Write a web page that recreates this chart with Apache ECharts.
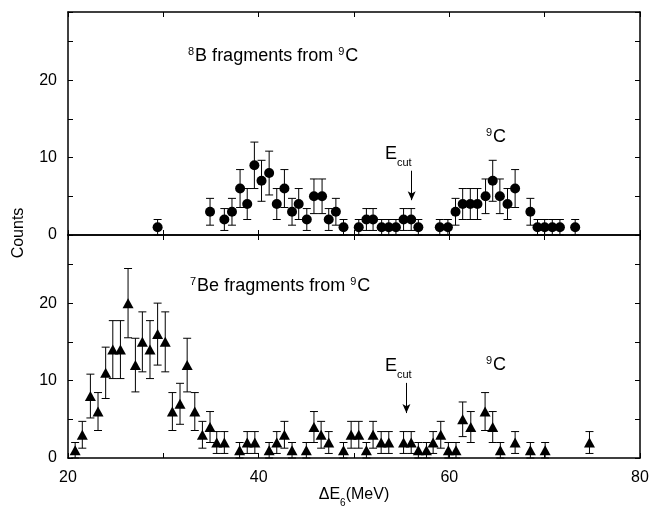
<!DOCTYPE html>
<html>
<head>
<meta charset="utf-8">
<script src="https://cdn.jsdelivr.net/npm/echarts@6/dist/echarts.min.js"></script>
<style>
  html, body { margin:0; padding:0; background:#fff; }
  #chart { width:654px; height:506px; }
</style>
</head>
<body>
<div id="chart"></div>
<script>
// ---- data (x = ΔE6 in MeV, y = counts) ----
const b8X = [29.4, 34.9, 36.4, 37.2, 38.05, 38.8, 39.55, 40.3, 41.1, 41.9, 42.7, 43.5, 44.2, 45.05, 45.8,
  46.65, 47.35, 48.1, 48.9, 50.5, 51.3, 52.0, 52.9, 53.65, 54.4, 55.2, 56.0, 56.75, 59.0, 59.85,
  60.65, 61.4, 62.2, 62.95, 63.8, 64.55, 65.3, 66.1, 66.9, 68.5, 69.25, 70.0, 70.8, 71.6, 73.2];
const b8Y = [1, 3, 2, 3, 6, 4, 9, 7, 8, 4, 6, 3, 4, 2, 5,
  5, 2, 3, 1, 1, 2, 2, 1, 1, 1, 2, 2, 1, 1, 1,
  3, 4, 4, 4, 5, 7, 5, 4, 6, 3, 1, 1, 1, 1, 1];

const be7X = [20.75, 21.5, 22.35, 23.15, 23.95, 24.7, 25.5, 26.3, 27.07, 27.8, 28.6, 29.4, 30.2, 30.95, 31.75,
  32.5, 33.3, 34.1, 34.9, 35.6, 36.4, 38.0, 38.8, 39.6, 41.1, 41.9, 42.7, 43.5, 45.0, 45.8,
  46.55, 47.35, 48.9, 49.7, 50.5, 51.3, 52.0, 52.85, 53.65, 55.2, 56.0, 56.75, 57.6, 58.3, 59.1,
  59.9, 60.7, 61.4, 62.25, 63.75, 64.55, 65.35, 66.9, 68.5, 70.05, 74.7];
const be7Y = [1, 3, 8, 6, 11, 14, 14, 20, 12, 15, 14, 16, 15, 6, 7,
  12, 6, 3, 4, 2, 2, 1, 2, 2, 1, 2, 3, 1, 1, 4,
  3, 2, 1, 3, 3, 1, 3, 2, 2, 2, 2, 1, 1, 2, 3,
  1, 1, 5, 4, 6, 4, 1, 2, 1, 1, 2];

// arrows marking E_cut : [x, yStart, yEnd]
const cutTop = [56.05, 8.3, 4.5];
const cutBot = [55.5, 9.7, 5.8];

const xTicks = { min:20, max:80, interval:10 };
const yMax = 28.8;

// poisson error bars (sqrt N), as drawn in the figure
const pts = (xs, ys) => xs.map((x,i)=> [x, ys[i], Math.sqrt(ys[i])]);

const FONT = 'Liberation Sans, Arial, Helvetica, sans-serif';
const lineStyle = { color:'#000', width:1.5 };

function xAxis(grid, pos, labels){
  return {
    type:'value', gridIndex:grid, position:pos, min:xTicks.min, max:xTicks.max, interval:xTicks.interval,
    axisLine:{ show:true, onZero:false, lineStyle },
    axisTick:{ show:true, inside:true, length:5, lineStyle:{ color:'#000', width:1 } },
    axisLabel:{ show:labels, margin:12, fontSize:16, color:'#000', fontFamily:FONT,
      formatter:(v)=> v % 20 === 0 ? String(v) : '' },
    splitLine:{ show:false }
  };
}
function yAxis(grid, pos, labels){
  return {
    type:'value', gridIndex:grid, position:pos, min:0, max:yMax, interval:5,
    axisLine:{ show:true, onZero:false, lineStyle },
    axisTick:{ show:true, inside:true, length:5, lineStyle:{ color:'#000', width:1 } },
    axisLabel:{ show:labels, margin:11, fontSize:16, color:'#000', fontFamily:FONT,
      formatter:(v)=> v % 10 === 0 ? String(v) : '' },
    splitLine:{ show:false }
  };
}

function errRender(params, api){
  const x = api.value(0), y = api.value(1), e = api.value(2);
  const hi = api.coord([x, y + e]);
  const lo = api.coord([x, Math.max(0, y - e)]);
  const w = 4;
  const st = { stroke:'#000', lineWidth:1 };
  return { type:'group', children:[
    { type:'line', shape:{ x1:hi[0], y1:hi[1], x2:lo[0], y2:lo[1] }, style:st },
    { type:'line', shape:{ x1:hi[0]-w, y1:hi[1], x2:hi[0]+w, y2:hi[1] }, style:st },
    { type:'line', shape:{ x1:lo[0]-w, y1:lo[1], x2:lo[0]+w, y2:lo[1] }, style:st }
  ]};
}

function arrowLine(a){
  return {
    silent:true, symbol:['none','arrow'], symbolSize:[6,9],
    lineStyle:{ color:'#000', width:1, type:'solid' }, label:{ show:false },
    data:[[ { coord:[a[0], a[1]] }, { coord:[a[0], a[2]] } ]]
  };
}

const rich = {
  n:{ fontSize:18, fontFamily:FONT, color:'#000', lineHeight:22 },
  s:{ fontSize:11, fontFamily:FONT, color:'#000', verticalAlign:'top', lineHeight:22, padding:[1,1,0,0] },
  d:{ fontSize:11, fontFamily:FONT, color:'#000', verticalAlign:'bottom', lineHeight:22, padding:[0,0,-3,0] }
};
function label(x, y, text){
  return { type:'text', left:x, top:y, style:{ text, rich, fill:'#000' } };
}

const chart = echarts.init(document.getElementById('chart'), null, { renderer:'canvas' });
chart.setOption({
  animation:false,
  backgroundColor:'#fff',
  grid:[
    { left:68, top:12, width:572, height:223, outerBoundsMode:'none', containLabel:false },
    { left:68, top:235, width:572, height:223, outerBoundsMode:'none', containLabel:false }
  ],
  xAxis:[
    xAxis(0, 'bottom', false),
    xAxis(0, 'top', false),
    Object.assign(xAxis(1, 'bottom', true), {
      name:'{n|ΔE}{d|6}{n|(MeV)}', nameLocation:'middle', nameGap:27,
      nameTextStyle:{ rich:{
        n:{ fontSize:16, fontFamily:FONT, color:'#000', lineHeight:20 },
        d:{ fontSize:10, fontFamily:FONT, color:'#000', verticalAlign:'bottom', lineHeight:20, padding:[0,0,-3,0] }
      } }
    }),
    xAxis(1, 'top', false)
  ],
  yAxis:[
    yAxis(0, 'left', true),
    yAxis(0, 'right', false),
    yAxis(1, 'left', true),
    yAxis(1, 'right', false)
  ],
  graphic:[
    { type:'text', x:19, y:233, rotation:Math.PI/2, style:{ text:'Counts', fontSize:16, fontFamily:FONT, fill:'#000', align:'center', verticalAlign:'middle' } },
    label(188, 45, '{s|8}{n|B fragments from }{s|9}{n|C}'),
    label(190, 275, '{s|7}{n|Be fragments from }{s|9}{n|C}'),
    label(385, 145, '{n|E}{d|cut}'),
    label(385, 357, '{n|E}{d|cut}'),
    label(486, 126, '{s|9}{n|C}'),
    label(486, 354, '{s|9}{n|C}')
  ],
  series:[
    { type:'custom', xAxisIndex:0, yAxisIndex:0, renderItem:errRender, data:pts(b8X, b8Y),
      encode:{ x:0, y:[1] }, clip:false, z:2, markLine:arrowLine(cutTop) },
    { type:'scatter', xAxisIndex:0, yAxisIndex:0, symbol:'circle', symbolSize:10,
      itemStyle:{ color:'#000', opacity:1 }, data:b8X.map((x,i)=>[x, b8Y[i]]), z:3 },
    { type:'custom', xAxisIndex:2, yAxisIndex:2, renderItem:errRender, data:pts(be7X, be7Y),
      encode:{ x:0, y:[1] }, clip:false, z:2, markLine:arrowLine(cutBot) },
    { type:'scatter', xAxisIndex:2, yAxisIndex:2, symbol:'triangle', symbolSize:[11,10],
      itemStyle:{ color:'#000', opacity:1 }, data:be7X.map((x,i)=>[x, be7Y[i]]), z:3 }
  ]
});
</script>
</body>
</html>
